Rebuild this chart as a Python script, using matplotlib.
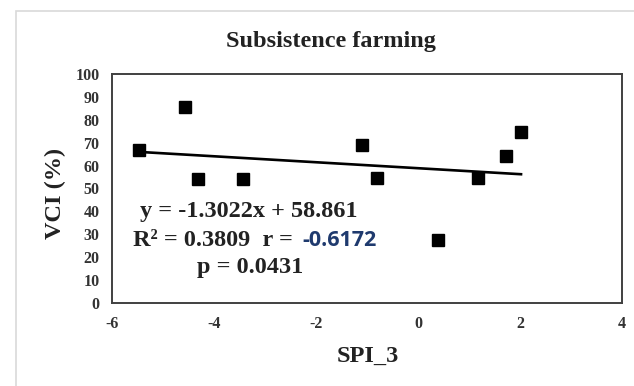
import numpy as np
import matplotlib
matplotlib.use("Agg")
import matplotlib.pyplot as plt
from matplotlib.patches import Rectangle

plt.rcParams["axes.unicode_minus"] = False

# --- data ---
spi_3 = [-5.47, -4.57, -4.31, -3.43, -1.10, -0.80, 0.40, 1.18, 1.72, 2.02]
vci = [67, 85.5, 54, 54, 69, 54.5, 27.5, 54.5, 64, 74.5]

slope, intercept = -1.3022, 58.861
eq_text = "y = -1.3022x + 58.861"
r2_text = "R\u00b2 = 0.3809  r = "
r_text = "-0.6172"
p_text = "p = 0.0431"

x_ticks = [-6, -4, -2, 0, 2, 4]
y_ticks = list(range(0, 101, 10))

W, H = 634, 386
serif = ["Liberation Serif", "DejaVu Serif"]

fig = plt.figure(figsize=(W / 100, H / 100), dpi=100)
fig.patch.set_facecolor("white")

# light grey outer chart frame
fig.patches.append(Rectangle((16 / W, -0.05), 1.1, 1 - 11 / H + 0.05,
                             transform=fig.transFigure, fill=False,
                             edgecolor="#d9d9d9", linewidth=1.2))

ax = fig.add_axes([112 / W, 1 - 303 / H, (622 - 112) / W, (303 - 74) / H])

ax.plot(spi_3, vci, "s", color="black", markersize=8, zorder=3)

x_fit = np.array([min(spi_3), max(spi_3)])
ax.plot(x_fit, slope * x_fit + intercept, color="black", linewidth=1.9, zorder=2)

ax.set_xlim(-6, 4)
ax.set_ylim(0, 100)
ax.set_xticks(x_ticks)
ax.set_yticks(y_ticks)
ax.tick_params(length=0, pad=9)
for lab in ax.get_xticklabels() + ax.get_yticklabels():
    lab.set_family(serif)
    lab.set_fontweight("bold")
    lab.set_fontsize(11.5)
    lab.set_color("#333333")
for sp in ax.spines.values():
    sp.set_color("#404040")
    sp.set_linewidth(1.4)

def px(x, y):
    return x / W, 1 - y / H

fig.text(*px(331, 42), "Subsistence farming", ha="center", va="center",
         family=serif, fontweight="bold", fontsize=17.5, color="#222222")
fig.text(*px(368, 356), "SPI_3", ha="center", va="center",
         family=serif, fontweight="bold", fontsize=17.5, color="#222222")
fig.text(*px(55, 193), "VCI (%)", ha="center", va="center", rotation=90,
         family=serif, fontweight="bold", fontsize=17.5, color="#222222")

fig.text(*px(249, 212), eq_text, ha="center", va="center",
         family=serif, fontweight="bold", fontsize=17.5, color="#222222")
fig.text(*px(299, 240), r2_text, ha="right", va="center",
         family=serif, fontweight="bold", fontsize=17.5, color="#222222")
fig.text(*px(302, 240), r_text, ha="left", va="center",
         family=["Open Sans", "DejaVu Sans"], fontweight="bold", fontsize=15.5,
         color="#1f3a6e")
fig.text(*px(250, 268), p_text, ha="center", va="center",
         family=serif, fontweight="bold", fontsize=17.5, color="#222222")

fig.savefig("out.png", dpi=100)
